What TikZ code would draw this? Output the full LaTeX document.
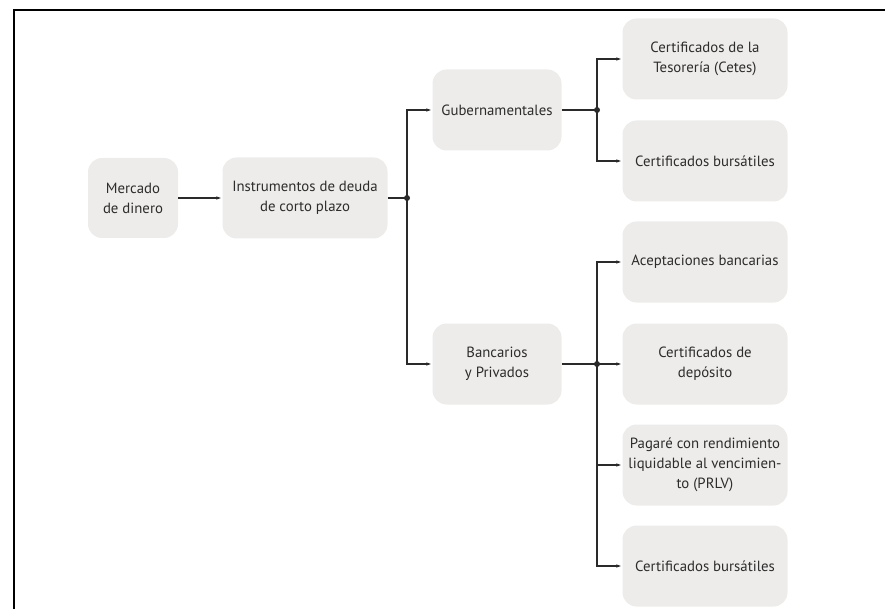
\documentclass[tikz,border=0pt]{standalone}
\usepackage{fontspec}
\setmainfont{PT Sans}
\usetikzlibrary{arrows.meta}
\definecolor{boxgray}{HTML}{EDECEA}
\definecolor{txtgray}{HTML}{2C2C2C}
\definecolor{linegray}{HTML}{2A2A2A}
\begin{document}
\begin{tikzpicture}[x=1pt,y=-1pt,
  box/.style={fill=boxgray, rounded corners=14pt, align=center, text=txtgray,
    font=\fontsize{14.8}{20}\selectfont, inner sep=0pt},
  wide/.style={box, minimum width=165pt, minimum height=81pt},
  mid/.style={box, minimum width=129pt, minimum height=81pt},
  small/.style={box, minimum width=90pt, minimum height=80pt},
  conn/.style={draw=linegray, line width=1.2pt, -{Latex[length=6pt,width=3.5pt]}},
  plain/.style={draw=linegray, line width=1.2pt},
  dot/.style={circle, fill=linegray, inner sep=0pt, minimum size=6pt}]
\useasboundingbox (0,0) rectangle (885,609);
\draw[line width=2.6pt] (14,609) -- (14,10) -- (885,10);

\node[small] (merc) at (133,198) {Mercado\\de dinero};
\node[wide] (inst) at (305,198) {Instrumentos de deuda\\de corto plazo};
\node[mid] (gub) at (497,110) {Gubernamentales};
\node[mid] (ban) at (497,364) {Bancarios\\y Privados};
\node[wide] (cet) at (705,59) {Certificados de la\\Tesorería (Cetes)};
\node[wide] (cb1) at (705,161) {Certificados bursátiles};
\node[wide] (ace) at (705,262) {Aceptaciones bancarias};
\node[wide] (dep) at (705,364) {Certificados de\\depósito};
\node[wide] (prl) at (705,465) {Pagaré con rendimiento\\liquidable al vencimien-\\to (PRLV)};
\node[wide] (cb2) at (705,566) {Certificados bursátiles};

\node[dot] (j1) at (407,198) {};
\node[dot] (j2) at (597,110) {};
\node[dot] (j3) at (597,364) {};

\draw[conn] (merc.east) -- (inst.west);
\draw[plain] (inst.east) -- (j1.center);
\draw[conn] (j1.center) |- (gub.west);
\draw[conn] (j1.center) |- (ban.west);
\draw[plain] (gub.east) -- (j2.center);
\draw[conn] (j2.center) |- (cet.west);
\draw[conn] (j2.center) |- (cb1.west);
\draw[plain] (ban.east) -- (j3.center);
\draw[conn] (j3.center) |- (ace.west);
\draw[conn] (j3.center) -- (dep.west);
\draw[conn] (j3.center) |- (prl.west);
\draw[conn] (j3.center) |- (cb2.west);
\end{tikzpicture}
\end{document}
